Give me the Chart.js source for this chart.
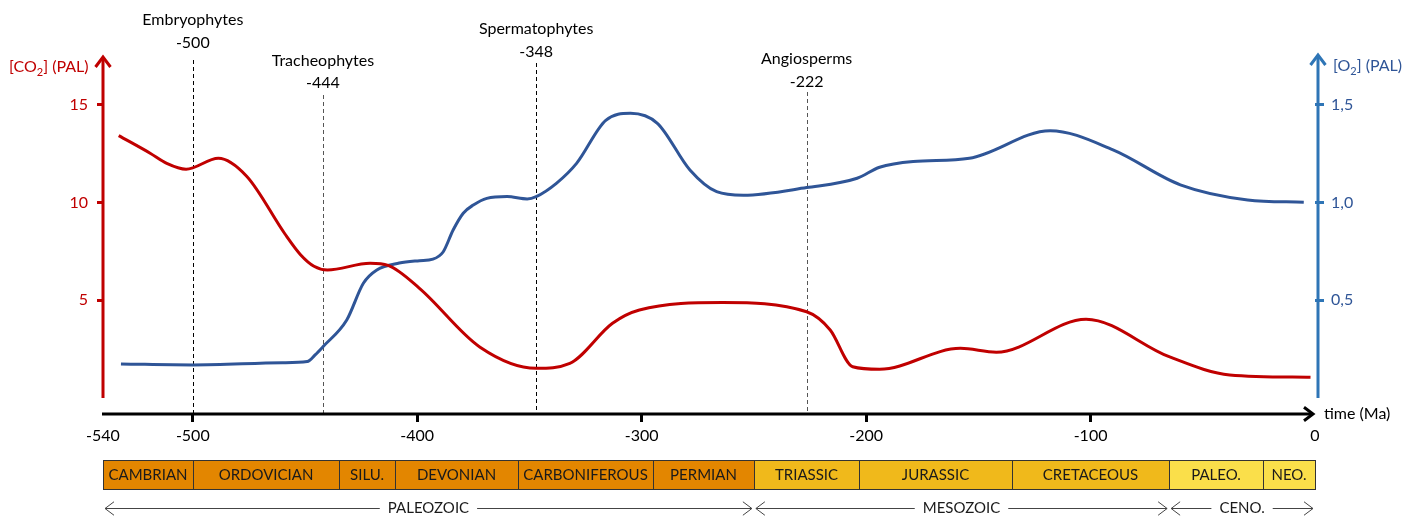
<!DOCTYPE html>
<html>
<head>
<meta charset="utf-8">
<script src="https://cdn.jsdelivr.net/npm/chart.js@4/dist/chart.umd.min.js"></script>
<style>
  html, body { margin: 0; padding: 0; background: #fff; }
</style>
</head>
<body>
<canvas id="geo-chart" width="1422" height="520"></canvas>
<script>
// CO2 curve (Ma, PAL)
let co2Age = [-533, -519, -511.6, -503, -488.6, -476, -459, -452, -446, -440, -421, -413, -399, -372, -347, -332, -313, -301, -264, -226.5, -216, -206, -194, -158, -142, -102, -65, -38, -2]
let co2Value = [13.42, 12.52, 12.0, 11.7, 12.26, 11.34, 8.4, 7.33, 6.74, 6.55, 6.89, 6.78, 5.61, 2.6, 1.52, 1.77, 3.82, 4.5, 4.88, 4.41, 3.48, 1.6, 1.47, 2.54, 2.34, 4.03, 2.11, 1.18, 1.06]

// O2 curve (Ma, PAL)
let o2Age = [-532, -500, -460, -449, -445.5, -442, -431.4, -424, -418, -408, -399, -393, -388.4, -384, -379.5, -375, -369, -360, -351, -347, -338, -329, -316, -305, -293, -278.5, -266.6, -254.7, -226.5, -204, -194, -179, -154, -118, -90, -60, -30, -5]
let o2Value = [0.174, 0.169, 0.18, 0.186, 0.22, 0.262, 0.399, 0.587, 0.655, 0.69, 0.702, 0.71, 0.748, 0.859, 0.945, 0.987, 1.021, 1.03, 1.018, 1.03, 1.098, 1.2, 1.42, 1.456, 1.405, 1.166, 1.055, 1.037, 1.076, 1.124, 1.18, 1.209, 1.226, 1.367, 1.269, 1.09, 1.013, 1.001]

let xTicks = [-540, -500, -400, -300, -200, -100, 0]
let co2Ticks = [5, 10, 15]
let o2Ticks = [0.5, 1, 1.5]
let o2TickLabels = ["0,5", "1,0", "1,5"]

// plant groups
let eventNames = ["Embryophytes", "Tracheophytes", "Spermatophytes", "Angiosperms"]
let eventLabels = ["-500", "-444", "-348", "-222"]
let eventAge = [-500, -442, -347, -226.5]

// periods and eras
let periodNames = ["CAMBRIAN", "ORDOVICIAN", "SILU.", "DEVONIAN", "CARBONIFEROUS", "PERMIAN", "TRIASSIC", "JURASSIC", "CRETACEOUS", "PALEO.", "NEO."]
let periodStart = [-540, -500, -435, -410, -355, -295, -250, -203, -135, -65, -23]
let periodEnd = [-500, -435, -410, -355, -295, -250, -203, -135, -65, -23, 0]
let periodEra = [0, 0, 0, 0, 0, 0, 1, 1, 1, 2, 2]
let eraNames = ["PALEOZOIC", "MESOZOIC", "CENO."]
let eraStart = [-540, -250, -65]
let eraEnd = [-250, -65, 0]
let eraColors = ["#E38600", "#F0B91B", "#FADF4A"]

const FONT = "Lato, 'Noto Sans', sans-serif"
const RED = "#C00000"
const BLUE = "#2F5597"
const BLUE_AXIS = "#2E75B6"

function zip(xs, ys) {
    return xs.map((x, i) => ({ x: x, y: ys[i] }))
}

function titleWithSub(ctx, x, y, pre, sub, post, color) {
    ctx.fillStyle = color
    ctx.textAlign = "left"
    ctx.textBaseline = "alphabetic"
    ctx.font = "16px " + FONT
    ctx.fillText(pre, x, y)
    x += ctx.measureText(pre).width
    ctx.font = "11px " + FONT
    ctx.fillText(sub, x, y + 4)
    x += ctx.measureText(sub).width
    ctx.font = "16px " + FONT
    ctx.fillText(post, x, y)
}

function chevron(ctx, x, y, dx, dy, size) {
    // open arrow head, tip at (x, y), pointing along (dx, dy)
    let px = -dy, py = dx
    ctx.beginPath()
    ctx.moveTo(x - dx * size + px * size * 0.75, y - dy * size + py * size * 0.75)
    ctx.lineTo(x, y)
    ctx.lineTo(x - dx * size - px * size * 0.75, y - dy * size - py * size * 0.75)
    ctx.stroke()
}

let overlay = {
    id: "overlay",
    beforeDatasetsDraw(chart) {
        let ctx = chart.ctx
        let xs = chart.scales.x
        let area = chart.chartArea
        let tops = [60, 95, 63, 92]
        ctx.save()
        ctx.lineWidth = 1
        ctx.setLineDash([4, 3])
        eventAge.forEach((a, i) => {
            let px = Math.round(xs.getPixelForValue(a)) + 0.5
            ctx.strokeStyle = (i % 2) ? "#555" : "#000"
            ctx.beginPath()
            ctx.moveTo(px, tops[i])
            ctx.lineTo(px, area.bottom)
            ctx.stroke()
        })
        ctx.restore()
    },
    afterDraw(chart) {
        let ctx = chart.ctx
        let xs = chart.scales.x
        let area = chart.chartArea
        let yZero = chart.scales.co2.getPixelForValue(0)
        ctx.save()

        // plant group labels
        let nameBase = [25, 66, 34, 64]
        let valBase = [48, 88, 57, 87]
        ctx.fillStyle = "#000"
        ctx.textAlign = "center"
        ctx.textBaseline = "alphabetic"
        ctx.font = "16px " + FONT
        eventAge.forEach((a, i) => {
            let px = xs.getPixelForValue(a)
            ctx.fillText(eventNames[i], px, nameBase[i])
            ctx.fillText(eventLabels[i], px, valBase[i])
        })

        // axes
        ctx.lineCap = "butt"
        ctx.lineWidth = 3
        ctx.strokeStyle = RED
        ctx.beginPath()
        ctx.moveTo(area.left, yZero)
        ctx.lineTo(area.left, area.top + 1)
        ctx.stroke()
        chevron(ctx, area.left, area.top, 0, -1, 10)

        let bx = area.right + 3
        ctx.strokeStyle = BLUE_AXIS
        ctx.beginPath()
        ctx.moveTo(bx, yZero)
        ctx.lineTo(bx, area.top - 1)
        ctx.stroke()
        chevron(ctx, bx, area.top - 2, 0, -1, 10)

        ctx.strokeStyle = "#000"
        ctx.beginPath()
        ctx.moveTo(area.left - 1, area.bottom)
        ctx.lineTo(area.right - 2, area.bottom)
        ctx.stroke()
        chevron(ctx, area.right - 2, area.bottom, 1, 0, 9)

        // axis titles
        titleWithSub(ctx, 9, 72, "[CO", "2", "] (PAL)", RED)
        titleWithSub(ctx, 1333, 71, "[O", "2", "] (PAL)", BLUE)
        ctx.fillStyle = "#000"
        ctx.font = "16px " + FONT
        ctx.textAlign = "left"
        ctx.fillText("time (Ma)", 1324, 419)

        // period boxes
        let top = 460, h = 29
        ctx.lineWidth = 1
        periodNames.forEach((name, i) => {
            let x0 = Math.round(xs.getPixelForValue(periodStart[i]))
            let x1 = Math.round(xs.getPixelForValue(periodEnd[i]))
            ctx.fillStyle = eraColors[periodEra[i]]
            ctx.fillRect(x0, top, x1 - x0, h)
            ctx.strokeStyle = "#333"
            ctx.strokeRect(x0 + 0.5, top + 0.5, x1 - x0, h)
            ctx.fillStyle = "#1a1a1a"
            ctx.font = "15px " + FONT
            ctx.textAlign = "center"
            ctx.textBaseline = "middle"
            ctx.fillText(name, (x0 + x1) / 2, top + h / 2 + 1)
        })

        // eras with double arrows
        let ey = 508.5
        ctx.strokeStyle = "#444"
        ctx.lineWidth = 1
        eraNames.forEach((name, i) => {
            let x0 = xs.getPixelForValue(eraStart[i]) + 2
            let x1 = xs.getPixelForValue(eraEnd[i]) - 2
            let mid = (x0 + x1) / 2
            ctx.font = "15px " + FONT
            let w = ctx.measureText(name).width
            ctx.fillStyle = "#1a1a1a"
            ctx.textAlign = "center"
            ctx.textBaseline = "middle"
            ctx.fillText(name, mid, ey)
            ctx.beginPath()
            ctx.moveTo(x0, ey)
            ctx.lineTo(mid - w / 2 - 8, ey)
            ctx.moveTo(mid + w / 2 + 8, ey)
            ctx.lineTo(x1, ey)
            ctx.stroke()
            chevron(ctx, x0, ey, -1, 0, 9)
            chevron(ctx, x1, ey, 1, 0, 9)
        })
        ctx.restore()
    }
}

let canvas = document.querySelector("#geo-chart")
let ctx = canvas.getContext("2d")

let chart = new Chart(ctx, {
    type: "line",
    data: {
        datasets: [{
            label: "CO2",
            data: zip(co2Age, co2Value),
            yAxisID: "co2",
            borderColor: RED,
            borderWidth: 3,
            pointRadius: 0,
            cubicInterpolationMode: "monotone"
        }, {
            label: "O2",
            data: zip(o2Age, o2Value),
            yAxisID: "o2",
            borderColor: BLUE,
            borderWidth: 3,
            pointRadius: 0,
            cubicInterpolationMode: "monotone"
        }]
    },
    options: {
        responsive: false,
        animation: false,
        layout: { padding: { top: 57, left: 0, right: 0, bottom: 0 } },
        plugins: { legend: { display: false }, tooltip: { enabled: false } },
        scales: {
            x: {
                type: "linear",
                min: -540,
                max: 0,
                border: { display: false },
                grid: {
                    drawOnChartArea: false,
                    tickLength: 8,
                    tickWidth: 3,
                    tickColor: c => (c.tick && (c.tick.value === -540 || c.tick.value === 0)) ? "rgba(0,0,0,0)" : "#000"
                },
                afterBuildTicks: s => { s.ticks = xTicks.map(v => ({ value: v })) },
                afterFit: s => { s.height = 106 },
                ticks: {
                    autoSkip: false,
                    maxRotation: 0,
                    padding: 4,
                    color: "#000",
                    font: { family: FONT, size: 16 },
                    callback: v => String(v)
                }
            },
            co2: {
                type: "linear",
                position: "left",
                min: -0.82,
                max: 17.44,
                border: { display: false },
                grid: { drawOnChartArea: false, tickLength: 6, tickWidth: 3, tickColor: RED },
                afterBuildTicks: s => { s.ticks = co2Ticks.map(v => ({ value: v })) },
                afterFit: s => { s.width = 103 },
                ticks: { padding: 9, color: RED, font: { family: FONT, size: 16 } }
            },
            o2: {
                type: "linear",
                position: "right",
                min: -0.082,
                max: 1.744,
                border: { display: false },
                grid: { drawOnChartArea: false, tickLength: 9, tickWidth: 3, tickColor: BLUE_AXIS },
                afterBuildTicks: s => { s.ticks = o2Ticks.map(v => ({ value: v })) },
                afterFit: s => { s.width = 107 },
                ticks: {
                    padding: 7,
                    color: BLUE,
                    font: { family: FONT, size: 16 },
                    callback: v => o2TickLabels[o2Ticks.indexOf(v)]
                }
            }
        }
    },
    plugins: [overlay]
})
</script>
</body>
</html>
